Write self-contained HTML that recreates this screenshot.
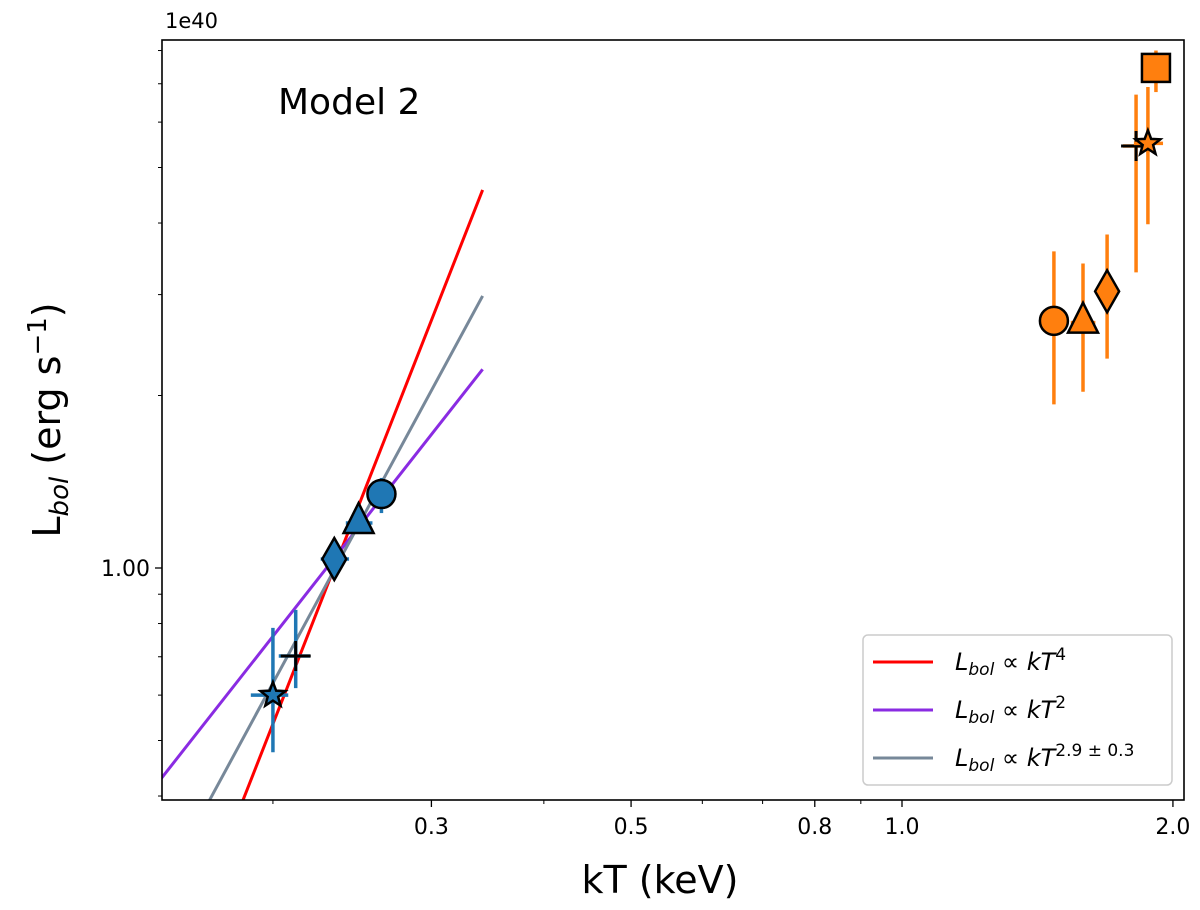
<!DOCTYPE html>
<html><head><meta charset="utf-8"><style>
html,body{margin:0;padding:0;background:#fff;overflow:hidden;width:1200px;height:910px;}
svg{display:block;}
svg text{font-family:"DejaVu Sans","Liberation Sans",sans-serif;}
</style></head><body>
<svg id="chart" width="1200" height="910" xmlns="http://www.w3.org/2000/svg">
<rect width="1200" height="910" fill="#fff"/>
<defs><clipPath id="plotclip"><rect x="162" y="40" width="1022" height="760"/></clipPath></defs>
<g id="lines" clip-path="url(#plotclip)"></g>
<g id="points"></g>
<g id="axes"></g>
<text x="278" y="114" font-size="36">Model 2</text>
<text x="165" y="28" font-size="21">1e40</text>
<text x="660" y="893" font-size="38" text-anchor="middle">kT (keV)</text>
<text transform="translate(60,420) rotate(-90)" font-size="38" text-anchor="middle">L<tspan font-size="26" font-style="italic" dy="8">bol</tspan><tspan dy="-8"> (erg s</tspan><tspan font-size="26" dy="-14">−1</tspan><tspan dy="14">)</tspan></text>
<g>
<rect x="863" y="635" width="309" height="150" rx="5" fill="#fff" stroke="#ccc" stroke-width="1.5"/>
<g><line x1="873" y1="662" x2="933" y2="662" stroke="#ff0000" stroke-width="3"/>
<text x="955" y="670" font-size="24" font-style="italic">L<tspan font-size="17" dy="5">bol</tspan><tspan dy="-5" font-style="normal"> ∝ </tspan>kT<tspan font-size="17" dy="-10" font-style="normal">4</tspan></text></g>
<g><line x1="873" y1="710" x2="933" y2="710" stroke="#8a2be2" stroke-width="3"/>
<text x="955" y="718" font-size="24" font-style="italic">L<tspan font-size="17" dy="5">bol</tspan><tspan dy="-5" font-style="normal"> ∝ </tspan>kT<tspan font-size="17" dy="-10" font-style="normal">2</tspan></text></g>
<g><line x1="873" y1="758" x2="933" y2="758" stroke="#778899" stroke-width="3"/>
<text x="955" y="766" font-size="24" font-style="italic">L<tspan font-size="17" dy="5">bol</tspan><tspan dy="-5" font-style="normal"> ∝ </tspan>kT<tspan font-size="17" dy="-10" font-style="normal">2.9 ± 0.3</tspan></text></g>
</g>
</svg>
<script>
const xTicks=[0.3,0.5,0.8,1.0,2.0];
const xTickLabels=["0.3","0.5","0.8","1.0","2.0"];
const xMinor=[0.2,0.4,0.6,0.7,0.9];
const yTicks=[1.0];
const yTickLabels=["1.00"];
const yMinor=[0.4,0.5,0.6,0.7,0.8,0.9,2,3,4,5,6,7,8];
const blueX=[0.200,0.212,0.234,0.249,0.264];
const blueY=[0.600,0.702,1.037,1.198,1.346];
const blueXLo=[0.189,0.203,0.226,0.241,0.258];
const blueXHi=[0.208,0.220,0.243,0.258,0.270];
const blueYLo=[0.477,0.617,1.02,1.18,1.247];
const blueYHi=[0.786,0.845,1.05,1.21,1.436];
const blueMarkers=["star","plus","diamond","triangle","circle"];
const orangeX=[1.475,1.589,1.69,1.82,1.876,1.915];
const orangeY=[2.70,2.68,3.04,5.45,5.51,7.46];
const orangeXLo=[1.46,1.54,1.68,1.76,1.81,1.90];
const orangeXHi=[1.49,1.64,1.70,1.89,1.95,1.93];
const orangeYLo=[1.93,2.03,2.32,3.28,3.98,6.77];
const orangeYHi=[3.57,3.40,3.82,6.70,6.91,8.0];
const orangeMarkers=["circle","triangle","diamond","plus","star","square"];
const fitExponents=[4,2,2.9];
const fitNorms=[334,19,67];
const fitColors=["#ff0000","#8a2be2","#778899"];
const fitNames=["fit-line-kt4","fit-line-kt2","fit-line-kt29"];
const fitRange=[0.15,0.342];

const X0=902,XS=900,Y0=568,YS=573;
function xp(v){return X0+XS*Math.log10(v);}
function yp(v){return Y0-YS*Math.log10(v);}
const NS="http://www.w3.org/2000/svg";
function mk(tag,attrs,parent){const e=document.createElementNS(NS,tag);for(const k in attrs)e.setAttribute(k,attrs[k]);parent.appendChild(e);return e;}
const axes=document.getElementById('axes'),lines=document.getElementById('lines'),pts=document.getElementById('points');
fitExponents.forEach((p,i)=>{
  const a=fitRange[0],b=fitRange[1];
  const l=mk('line',{x1:xp(a),y1:yp(fitNorms[i]*Math.pow(a,p)),x2:xp(b),y2:yp(fitNorms[i]*Math.pow(b,p)),stroke:fitColors[i],'stroke-width':3},lines);
  
  
});
function marker(type,cx,cy,fill,parent){
  let e;const st={fill:fill,stroke:'#000','stroke-width':2.5};
  if(type==='circle'){e=mk('circle',Object.assign({cx:cx,cy:cy,r:14},st),parent);}
  else if(type==='square'){e=mk('rect',Object.assign({x:cx-14,y:cy-14,width:28,height:28},st),parent);}
  else if(type==='diamond'){e=mk('polygon',Object.assign({points:`${cx},${cy-21} ${cx+12},${cy} ${cx},${cy+21} ${cx-12},${cy}`},st),parent);}
  else if(type==='triangle'){e=mk('polygon',Object.assign({points:`${cx},${cy-20} ${cx+15},${cy+10} ${cx-15},${cy+10}`},st),parent);}
  else if(type==='star'){let s='';for(let k=0;k<10;k++){const r=k%2?5.5:13;const a=-Math.PI/2+k*Math.PI/5;s+=`${cx+r*Math.cos(a)},${cy+r*Math.sin(a)} `;}e=mk('polygon',Object.assign({points:s},st),parent);}
  else {e=mk('path',{d:`M${cx-15},${cy}H${cx+15}M${cx},${cy-15}V${cy+15}`,stroke:'#000','stroke-width':3,fill:'none'},parent);}
  return e;
}
function series(X,Y,XL,XH,YL,YH,M,color,name){
  X.forEach((v,i)=>{
    const g=mk('g',{},pts);
    
    
    mk('line',{x1:xp(XL[i]),x2:xp(XH[i]),y1:yp(Y[i]),y2:yp(Y[i]),stroke:color,'stroke-width':3.5},g);
    mk('line',{x1:xp(v),x2:xp(v),y1:yp(YL[i]),y2:yp(YH[i]),stroke:color,'stroke-width':3.5},g);
    marker(M[i],xp(v),yp(Y[i]),color,g);
  });
}
series(blueX,blueY,blueXLo,blueXHi,blueYLo,blueYHi,blueMarkers,'#1f77b4','blue');
series(orangeX,orangeY,orangeXLo,orangeXHi,orangeYLo,orangeYHi,orangeMarkers,'#ff7f0e','orange');
const fr=mk('rect',{x:162,y:40,width:1022,height:760,fill:'none',stroke:'#000','stroke-width':1.6},axes);


xTicks.forEach((v,i)=>{
  mk('line',{x1:xp(v),x2:xp(v),y1:800,y2:807,stroke:'#000','stroke-width':1.3},axes);
  const t=mk('text',{x:xp(v),y:834,'font-size':22,'text-anchor':'middle'},axes);t.textContent=xTickLabels[i];
  
  
});
xMinor.forEach(v=>mk('line',{x1:xp(v),x2:xp(v),y1:800,y2:804,stroke:'#000','stroke-width':1},axes));
yTicks.forEach((v,i)=>{
  mk('line',{x1:155,x2:162,y1:yp(v),y2:yp(v),stroke:'#000','stroke-width':1.3},axes);
  const t=mk('text',{x:150,y:yp(v)+8,'font-size':22,'text-anchor':'end'},axes);t.textContent=yTickLabels[i];
  
  
});
yMinor.forEach(v=>mk('line',{x1:158,x2:162,y1:yp(v),y2:yp(v),stroke:'#000','stroke-width':1},axes));
</script>
</body></html>
